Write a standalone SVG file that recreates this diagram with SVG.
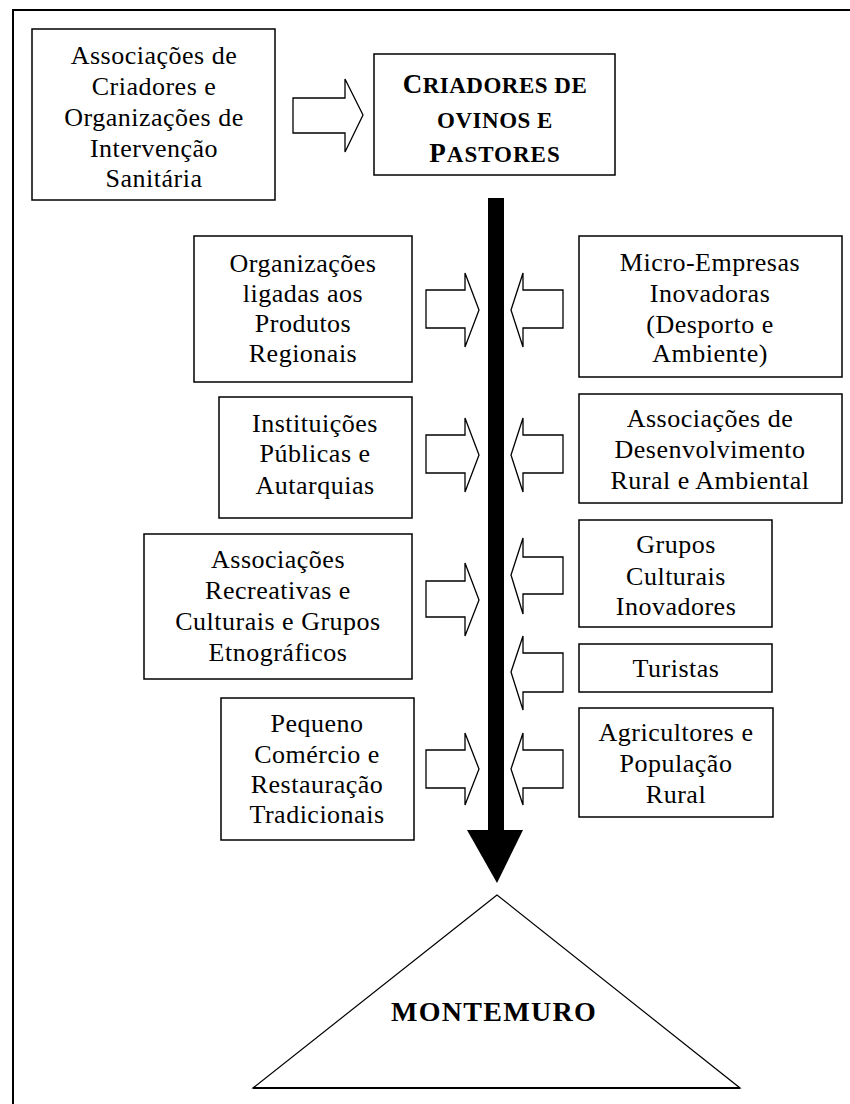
<svg xmlns="http://www.w3.org/2000/svg" width="850" height="1104" viewBox="0 0 850 1104">
<style>
.box{fill:#fff;stroke:#000;stroke-width:1.5}
.t{font-family:"Liberation Serif","Times New Roman",serif;font-size:26px;letter-spacing:0.5px;text-anchor:middle;fill:#000}
.b{font-family:"Liberation Serif","Times New Roman",serif;font-weight:bold;text-anchor:middle;fill:#000}
.ha{fill:#fff;stroke:#000;stroke-width:1.3;stroke-linejoin:miter}
</style>
<rect x="0" y="0" width="850" height="1104" fill="#fff"/>
<rect x="13" y="10" width="850" height="1110" fill="none" stroke="#000" stroke-width="2"/>

<g id="connectors">
<polygon class="ha" points="293,98 345,98 345,79 363,115 345,152 345,133 293,133"/>
<rect x="488" y="198" width="16" height="633" fill="#000"/>
<polygon points="467,830 523,830 497,883" fill="#000"/>
<polygon class="ha" points="426,290 465,290 465,273 479,310 465,347 465,328 426,328"/>
<polygon class="ha" points="563,290 523,290 523,273 511,310 523,347 523,328 563,328"/>
<polygon class="ha" points="426,435 465,435 465,418 479,455 465,492 465,473 426,473"/>
<polygon class="ha" points="563,435 523,435 523,418 511,455 523,492 523,473 563,473"/>
<polygon class="ha" points="426,581 465,581 465,563 479,600 465,636 465,617 426,617"/>
<polygon class="ha" points="563,557 523,557 523,538 511,575 523,614 523,594 563,594"/>
<polygon class="ha" points="563,653 523,653 523,636 511,672 523,710 523,692 563,692"/>
<polygon class="ha" points="426,750 465,750 465,733 479,769 465,805 465,788 426,788"/>
<polygon class="ha" points="563,750 523,750 523,733 511,769 523,805 523,788 563,788"/>
</g>

<g id="n-associacoes-criadores">
<rect class="box" x="32" y="29" width="243" height="171"/>
<text class="t" x="154" y="64">Associações de</text>
<text class="t" x="154" y="95">Criadores e</text>
<text class="t" x="154" y="126">Organizações de</text>
<text class="t" x="154" y="157">Intervenção</text>
<text class="t" x="154" y="187">Sanitária</text>
</g>

<g id="n-criadores-ovinos">
<rect class="box" x="374" y="54" width="241" height="121"/>
<text class="b" x="495" y="93" font-size="23" letter-spacing="0.5"><tspan font-size="27">C</tspan>RIADORES DE</text>
<text class="b" x="495" y="128" font-size="23" letter-spacing="0.5">OVINOS E</text>
<text class="b" x="495" y="162" font-size="23" letter-spacing="1"><tspan font-size="27">P</tspan>ASTORES</text>
</g>

<g id="n-organizacoes-produtos">
<rect class="box" x="194" y="236" width="218" height="146"/>
<text class="t" x="303" y="272">Organizações</text>
<text class="t" x="303" y="302">ligadas aos</text>
<text class="t" x="303" y="332">Produtos</text>
<text class="t" x="303" y="362">Regionais</text>
</g>

<g id="n-instituicoes">
<rect class="box" x="219" y="397" width="193" height="121"/>
<text class="t" x="315" y="432">Instituições</text>
<text class="t" x="315" y="462">Públicas e</text>
<text class="t" x="315" y="494">Autarquias</text>
</g>

<g id="n-associacoes-recreativas">
<rect class="box" x="144" y="534" width="268" height="145"/>
<text class="t" x="278" y="568">Associações</text>
<text class="t" x="278" y="599">Recreativas e</text>
<text class="t" x="278" y="630">Culturais e Grupos</text>
<text class="t" x="278" y="661">Etnográficos</text>
</g>

<g id="n-pequeno-comercio">
<rect class="box" x="221" y="698" width="193" height="142"/>
<text class="t" x="317" y="732">Pequeno</text>
<text class="t" x="317" y="763">Comércio e</text>
<text class="t" x="317" y="793">Restauração</text>
<text class="t" x="317" y="823">Tradicionais</text>
</g>

<g id="n-micro-empresas">
<rect class="box" x="579" y="236" width="263" height="141"/>
<text class="t" x="710" y="271">Micro-Empresas</text>
<text class="t" x="710" y="302">Inovadoras</text>
<text class="t" x="710" y="333">(Desporto e</text>
<text class="t" x="710" y="362">Ambiente)</text>
</g>

<g id="n-associacoes-desenvolvimento">
<rect class="box" x="579" y="394" width="263" height="109"/>
<text class="t" x="710" y="427">Associações de</text>
<text class="t" x="710" y="458">Desenvolvimento</text>
<text class="t" x="710" y="489">Rural e Ambiental</text>
</g>

<g id="n-grupos-culturais">
<rect class="box" x="579" y="520" width="193" height="107"/>
<text class="t" x="676" y="553">Grupos</text>
<text class="t" x="676" y="585">Culturais</text>
<text class="t" x="676" y="615">Inovadores</text>
</g>

<g id="n-turistas">
<rect class="box" x="579" y="644" width="193" height="48"/>
<text class="t" x="676" y="677">Turistas</text>
</g>

<g id="n-agricultores">
<rect class="box" x="579" y="708" width="194" height="109"/>
<text class="t" x="676" y="741">Agricultores e</text>
<text class="t" x="676" y="772">População</text>
<text class="t" x="676" y="803">Rural</text>
</g>

<g id="n-montemuro">
<polygon points="497,895 253,1088 740,1088" fill="#fff" stroke="#000" stroke-width="1.2"/>
<line x1="253" y1="1088" x2="740" y2="1088" stroke="#000" stroke-width="2"/>
<text class="b" x="494" y="1021" font-size="28" letter-spacing="1.3">MONTEMURO</text>
</g>
</svg>
